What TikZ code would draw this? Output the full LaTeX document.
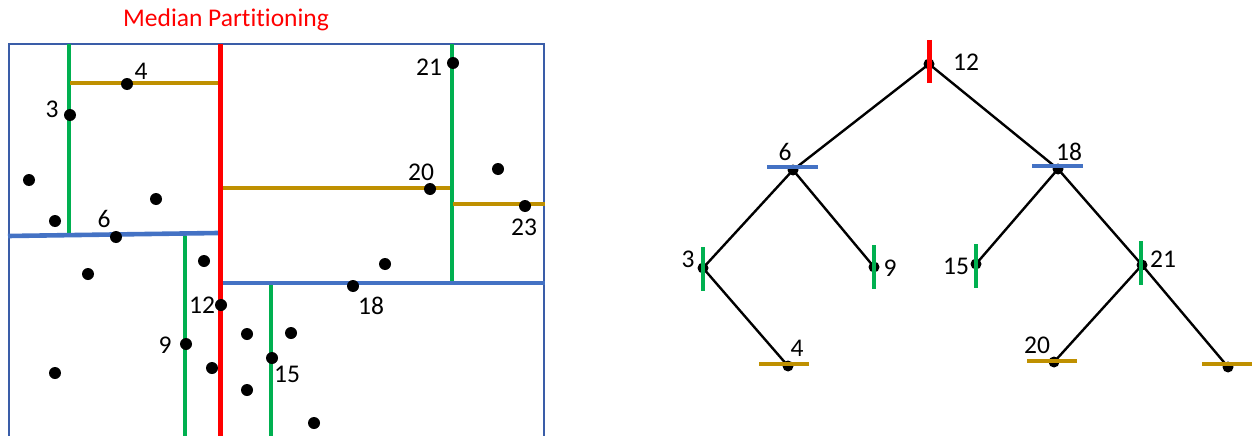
\documentclass[tikz,border=0pt]{standalone}
\usepackage{fontspec}
\setmainfont[Ligatures={NoCommon,NoContextual,NoRequired}]{Carlito}
\definecolor{kred}{HTML}{FF0000}
\definecolor{kgreen}{HTML}{00B050}
\definecolor{kgold}{HTML}{BF9000}
\definecolor{kblue}{HTML}{4472C4}
\definecolor{kframe}{HTML}{3A5DA8}
\begin{document}
\begin{tikzpicture}[x=1pt,y=-1pt,
  dot/.style={circle,fill=black,inner sep=0pt,minimum size=12pt},
  tdot/.style={circle,fill=black,inner sep=0pt,minimum size=11pt},
  lbl/.style={inner sep=0pt,font=\fontsize{25.5}{30}\selectfont},
  redl/.style={draw=kred,line width=5pt},
  greenl/.style={draw=kgreen,line width=4.2pt},
  goldl/.style={draw=kgold,line width=4.6pt},
  bluel/.style={draw=kblue,line width=4.6pt},
  edge/.style={draw=black,line width=2.4pt},
  framel/.style={draw=kframe,line width=1.2pt}
]
\useasboundingbox (0,0) rectangle (1252,436);
% ---------- left panel ----------
\node[lbl,text=kred] (title) at (226,20) {Median Parti\kern0pt tioning};
\draw[framel] (9,440) -- (9,44) -- (544,44) -- (544,440);
% splitting lines
\draw[greenl] (69,44) -- (69,235);
\draw[goldl] (70,83) -- (218,83);
\draw[greenl] (185,236) -- (185,440);
\draw[bluel] (8,236) -- (218,233);
\draw[goldl] (223,188) -- (451,188);
\draw[greenl] (452,44) -- (452,282);
\draw[goldl] (453,204) -- (545,204);
\draw[bluel] (222,283) -- (545,283);
\draw[greenl] (271,285) -- (271,440);
\draw[redl] (220,44) -- (220,440);
% points
\node[dot] (p4) at (127,84) {};
\node[dot] (p3) at (70,115) {};
\node[dot] (pa) at (29,180) {};
\node[dot] (pb) at (156,199) {};
\node[dot] (pc) at (55,221) {};
\node[dot] (p21) at (453,63) {};
\node[dot] (p20) at (430,189) {};
\node[dot] (pd) at (498,169) {};
\node[dot] (p23) at (525,206) {};
\node[dot] (p6) at (116,237) {};
\node[dot] (pe) at (204,261) {};
\node[dot] (pf) at (88,274) {};
\node[dot] (pg) at (385,264) {};
\node[dot] (p18) at (353,286) {};
\node[dot] (p12) at (221,305) {};
\node[dot] (p9) at (186,344) {};
\node[dot] (ph) at (247,334) {};
\node[dot] (pi) at (291,333) {};
\node[dot] (pj) at (55,373) {};
\node[dot] (pk) at (212,368) {};
\node[dot] (pl) at (247,390) {};
\node[dot] (pm) at (314,423) {};
\node[dot] (p15) at (272,358) {};
% labels
\node[lbl] (l4) at (141,71) {4};
\node[lbl] (l3) at (52,109) {3};
\node[lbl] (l21) at (429,67) {21};
\node[lbl] (l20) at (421,172) {20};
\node[lbl] (l23) at (524,227) {23};
\node[lbl] (l6) at (104,219) {6};
\node[lbl] (l18) at (371,306) {18};
\node[lbl] (l12) at (202,305) {12};
\node[lbl] (l9) at (165,345) {9};
\node[lbl] (l15) at (287,374) {15};
% ---------- right panel: tree ----------
\node[tdot] (t12) at (929,64) {};
\node[tdot] (t6) at (793,170) {};
\node[tdot] (t18) at (1058,169) {};
\node[tdot] (t3) at (703,268) {};
\node[tdot] (t9) at (874,267) {};
\node[tdot] (t15) at (976,264) {};
\node[tdot] (t21) at (1142,265) {};
\node[tdot] (t4) at (788,366) {};
\node[tdot] (t20) at (1054,362) {};
\node[tdot] (t23) at (1228,367) {};
\draw[edge] (t12.center) -- (t6.center);
\draw[edge] (t12.center) -- (t18.center);
\draw[edge] (t6.center) -- (t3.center);
\draw[edge] (t6.center) -- (t9.center);
\draw[edge] (t3.center) -- (t4.center);
\draw[edge] (t18.center) -- (t15.center);
\draw[edge] (t18.center) -- (t21.center);
\draw[edge] (t21.center) -- (t20.center);
\draw[edge] (t21.center) -- (t23.center);
% bars
\draw[redl] (929,40) -- (929,83);
\draw[bluel] (767,167) -- (818,167);
\draw[bluel] (1032,166) -- (1083,166);
\draw[greenl] (703,247) -- (703,291);
\draw[greenl] (874,245) -- (874,289);
\draw[greenl] (976,244) -- (976,288);
\draw[greenl] (1141,241) -- (1141,285);
\draw[goldl] (759,364) -- (809,364);
\draw[goldl] (1027,361) -- (1077,361);
\draw[goldl] (1202,364) -- (1252,364);
% tree labels
\node[lbl] (r12) at (966,62) {12};
\node[lbl] (r6) at (785,152) {6};
\node[lbl] (r18) at (1069,152) {18};
\node[lbl] (r3) at (688,259) {3};
\node[lbl] (r9) at (890,268) {9};
\node[lbl] (r15) at (956,266) {15};
\node[lbl] (r21) at (1163,259) {21};
\node[lbl] (r4) at (797,348) {4};
\node[lbl] (r20) at (1037,345) {20};
\end{tikzpicture}
\end{document}
